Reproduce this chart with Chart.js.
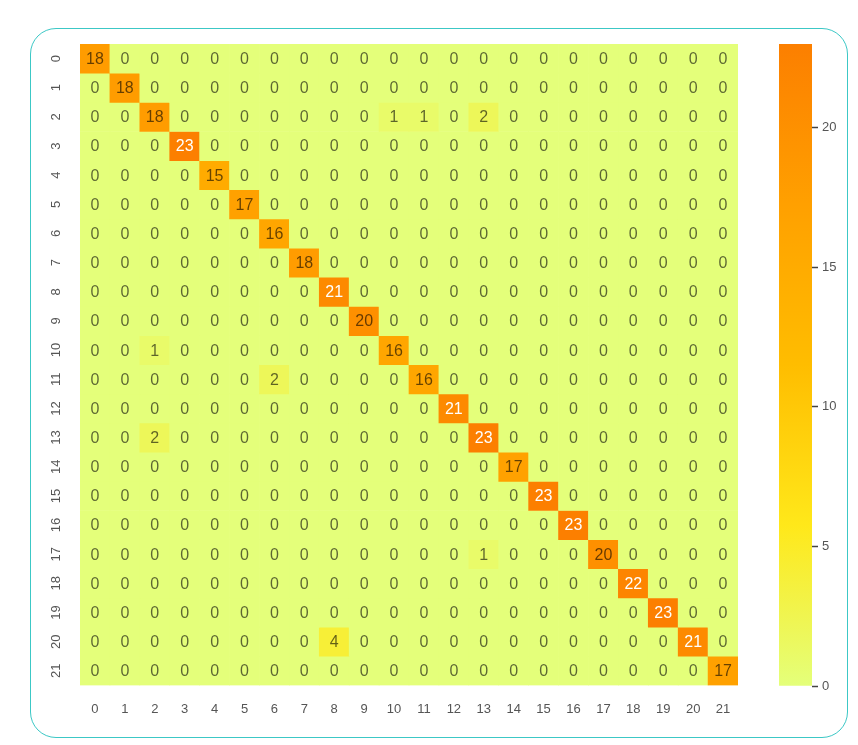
<!DOCTYPE html>
<html>
<head>
<meta charset="utf-8">
<script src="https://cdn.jsdelivr.net/npm/chart.js@4/dist/chart.umd.min.js"></script>
<style>
  html, body { margin: 0; padding: 0; background: #ffffff; }
  body { width: 858px; height: 745px; position: relative; overflow: hidden; }
  #card { position: absolute; left: 30px; top: 28px; width: 818px; height: 710px;
          border: 1.5px solid #3cc8c6; border-radius: 26px; box-sizing: border-box; background: #fff; }
  #wrapMain { position: absolute; left: 0; top: 0; width: 760px; height: 740px; }
  #wrapBar { position: absolute; left: 760px; top: 0; width: 98px; height: 740px; }
</style>
</head>
<body>
<div id="card"></div>
<div id="wrapMain"><canvas id="main"></canvas></div>
<div id="wrapBar"><canvas id="cbar"></canvas></div>
<script>
// ---- data ----
const colLabels = ["0","1","2","3","4","5","6","7","8","9","10","11","12","13","14","15","16","17","18","19","20","21"];
const rowLabels = ["0","1","2","3","4","5","6","7","8","9","10","11","12","13","14","15","16","17","18","19","20","21"];
const diagonal = [18,18,18,23,15,17,16,18,21,20,16,16,21,23,17,23,23,20,22,23,21,17];
// off-diagonal entries: [row, col, value]
const offDiagonal = [[2,10,1],[2,11,1],[2,13,2],[10,2,1],[11,6,2],[13,2,2],[17,13,1],[20,8,4]];
const colorbarTicks = [0,5,10,15,20];
const vMin = 0, vMax = 23;

const matrix = rowLabels.map((_, r) => colLabels.map((_, c) => (r === c ? diagonal[r] : 0)));
offDiagonal.forEach(([r, c, v]) => { matrix[r][c] = v; });

// Wistia colormap
const wistia = [[228,255,122],[255,232,26],[255,189,0],[255,160,0],[252,127,0]];
function cmap(v) {
  let t = (v - vMin) / (vMax - vMin);
  t = Math.max(0, Math.min(1, t));
  const pos = t * (wistia.length - 1);
  const i = Math.min(Math.floor(pos), wistia.length - 2);
  const f = pos - i;
  const a = wistia[i], b = wistia[i + 1];
  const c = a.map((x, k) => Math.round(x + (b[k] - x) * f));
  return `rgb(${c[0]},${c[1]},${c[2]})`;
}

const datasets = rowLabels.map((_, r) => ({
  label: rowLabels[r],
  data: colLabels.map(() => [r - 0.5, r + 0.5]),
  backgroundColor: colLabels.map((_, c) => cmap(matrix[r][c])),
  borderWidth: 0,
  barPercentage: 1,
  categoryPercentage: 1,
  grouped: false
}));

const annotate = {
  id: 'annotate',
  afterDatasetsDraw(chart) {
    const ctx = chart.ctx;
    ctx.save();
    ctx.font = '16px "Liberation Sans", Arial, sans-serif';
    ctx.textAlign = 'center';
    ctx.textBaseline = 'middle';
    chart.data.datasets.forEach((ds, r) => {
      const meta = chart.getDatasetMeta(r);
      meta.data.forEach((el, c) => {
        const v = matrix[r][c];
        ctx.fillStyle = v >= 21 ? '#ffffff' : 'rgba(0,0,0,0.6)';
        ctx.fillText(String(v), el.x, (el.y + el.base) / 2 + 1);
      });
    });
    ctx.restore();
  }
};

new Chart(document.getElementById('main'), {
  type: 'bar',
  data: { labels: colLabels, datasets },
  plugins: [annotate],
  options: {
    responsive: true,
    maintainAspectRatio: false,
    animation: false,
    events: [],
    layout: { padding: { left: 30, top: 44, right: 22, bottom: 7 } },
    plugins: { legend: { display: false }, tooltip: { enabled: false } },
    scales: {
      x: {
        type: 'category',
        offset: true,
        grid: { display: false, drawTicks: false },
        border: { display: false },
        ticks: { color: '#555', font: { size: 13, family: '"Liberation Sans", Arial, sans-serif' }, padding: 16, maxRotation: 0, minRotation: 0 }
      },
      y: {
        type: 'linear',
        reverse: true,
        min: -0.5,
        max: 21.5,
        afterBuildTicks(scale) { scale.ticks = rowLabels.map((_, i) => ({ value: i })); },
        afterFit(scale) { scale.width = 50; },
        grid: { display: false, drawTicks: false },
        border: { display: false },
        ticks: {
          color: '#555',
          font: { size: 13, family: '"Liberation Sans", Arial, sans-serif' },
          padding: 16,
          minRotation: 90,
          maxRotation: 90,
          crossAlign: 'center',
          autoSkip: false,
          callback: (v) => rowLabels[v]
        }
      }
    }
  }
});

// colorbar
new Chart(document.getElementById('cbar'), {
  type: 'bar',
  data: {
    labels: [''],
    datasets: [{
      data: [[vMin, vMax]],
      borderWidth: 0,
      barPercentage: 1,
      categoryPercentage: 1,
      backgroundColor(context) {
        const ca = context.chart.chartArea;
        if (!ca) return 'rgb(228,255,122)';
        const y0 = context.chart.scales.y.getPixelForValue(vMin);
        const y1 = context.chart.scales.y.getPixelForValue(vMax);
        const g = context.chart.ctx.createLinearGradient(0, y0, 0, y1);
        wistia.forEach((c, i) => g.addColorStop(i / (wistia.length - 1), `rgb(${c[0]},${c[1]},${c[2]})`));
        return g;
      }
    }]
  },
  options: {
    responsive: true,
    maintainAspectRatio: false,
    animation: false,
    events: [],
    layout: { padding: { left: 19, top: 44, right: 6, bottom: 54 } },
    plugins: { legend: { display: false }, tooltip: { enabled: false } },
    scales: {
      x: { display: false, offset: true },
      y: {
        position: 'right',
        min: vMin,
        max: vMax,
        afterBuildTicks(scale) { scale.ticks = colorbarTicks.map(v => ({ value: v })); },
        afterFit(scale) { scale.width = 40; },
        grid: { drawOnChartArea: false, drawTicks: true, tickLength: 6, color: '#444', tickWidth: 1.5 },
        border: { display: false },
        ticks: { color: '#555', font: { size: 13, family: '"Liberation Sans", Arial, sans-serif' }, padding: 4 }
      }
    }
  }
});
</script>
</body>
</html>
